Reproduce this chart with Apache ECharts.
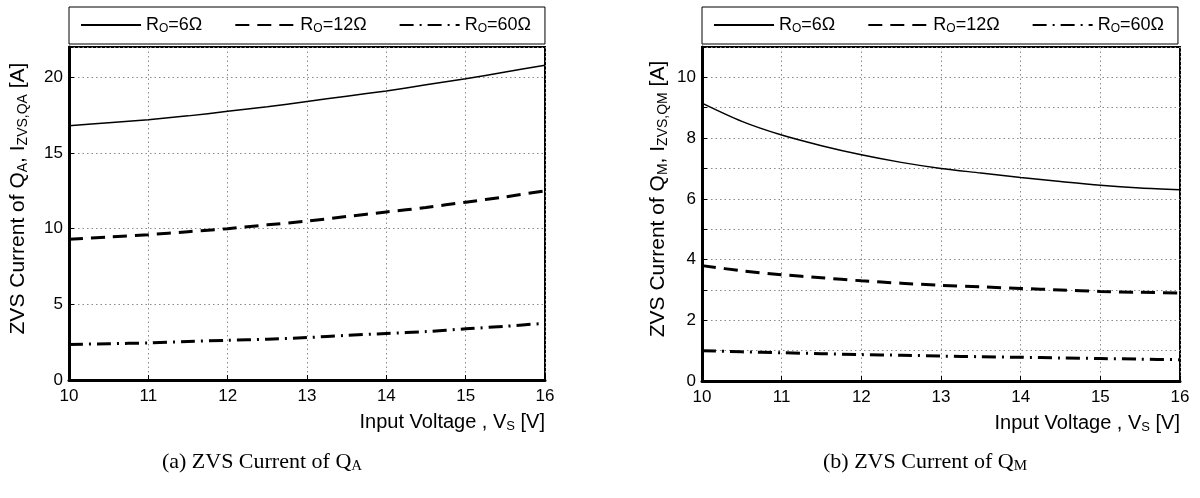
<!DOCTYPE html>
<html>
<head>
<meta charset="utf-8">
<title>ZVS Current</title>
<script src="https://cdn.jsdelivr.net/npm/echarts@6/dist/echarts.min.js"></script>
<style>
  html, body { margin: 0; padding: 0; background: #fff; }
  #main { width: 1200px; height: 498px; }
</style>
</head>
<body>
<div id="main"></div>
<script>
// input voltage Vs [V]
var vs = [10, 10.5, 11, 11.5, 12, 12.5, 13, 13.5, 14, 14.5, 15, 15.5, 16];

// (a) ZVS current of QA [A]
var qaR6  = [16.8, 17.0, 17.2, 17.45, 17.75, 18.05, 18.4, 18.75, 19.1, 19.5, 19.9, 20.35, 20.8];
var qaR12 = [9.3, 9.45, 9.6, 9.8, 10.0, 10.25, 10.5, 10.8, 11.1, 11.4, 11.75, 12.1, 12.5];
var qaR60 = [2.35, 2.4, 2.45, 2.55, 2.62, 2.7, 2.8, 2.95, 3.07, 3.2, 3.38, 3.55, 3.75];

// (b) ZVS current of QM [A]
var qmR6  = [9.15, 8.55, 8.1, 7.75, 7.45, 7.2, 7.0, 6.85, 6.7, 6.57, 6.45, 6.36, 6.3];
var qmR12 = [3.8, 3.63, 3.5, 3.4, 3.3, 3.22, 3.15, 3.1, 3.05, 3.0, 2.95, 2.92, 2.9];
var qmR60 = [1.0, 0.96, 0.93, 0.9, 0.87, 0.85, 0.82, 0.8, 0.78, 0.76, 0.74, 0.72, 0.7];

var names = ['R6', 'R12', 'R60'];
var labels = { R6: 'R{s|O}=6Ω', R12: 'R{s|O}=12Ω', R60: 'R{s|O}=60Ω' };

var font = 'Liberation Sans, Arial, sans-serif';
var serif = 'Liberation Serif, Times New Roman, serif';

var styles = {
  R6:  { color: '#000', width: 1.5, type: 'solid' },
  R12: { color: '#000', width: 3, type: [14, 8] },
  R60: { color: '#000', width: 3, type: [14, 6, 2, 6] }
};

function pairs(ys) {
  return vs.map(function (x, i) { return [x, ys[i]]; });
}

function legend(left) {
  return {
    data: names,
    left: left,
    top: 7,
    orient: 'horizontal',
    padding: [9, 14, 9, 11],
    itemWidth: 60,
    itemHeight: 14,
    itemGap: 32,
    borderColor: '#000',
    borderWidth: 1,
    backgroundColor: '#fff',
    selectedMode: false,
    // hide the marker circle, keep only the line sample
    itemStyle: { color: 'rgba(0,0,0,0)', borderColor: 'rgba(0,0,0,0)', borderWidth: 0 },
    formatter: function (n) { return labels[n]; },
    textStyle: {
      fontFamily: font, fontSize: 18, color: '#000',
      rich: { s: { fontFamily: font, fontSize: 12, color: '#000', padding: [8, 0, 0, 0] } }
    }
  };
}

function xAxis(idx) {
  return {
    type: 'value', gridIndex: idx, min: 10, max: 16, interval: 1,
    name: 'Input Voltage , V{s|S} [V]',
    nameLocation: 'end',
    nameGap: 0,
    nameTextStyle: {
      fontFamily: font, fontSize: 20, color: '#000', align: 'right', verticalAlign: 'top',
      padding: [31, 0, 0, 0],
      rich: { s: { fontFamily: font, fontSize: 13, color: '#000', padding: [9, 0, 0, 0] } }
    },
    axisLine: { show: true, onZero: false, lineStyle: { color: '#000', width: 3 } },
    axisTick: { inside: true, length: 5, lineStyle: { color: '#000' } },
    axisLabel: { margin: 8, fontFamily: font, fontSize: 17, color: '#000' },
    splitLine: { show: true, lineStyle: { color: '#8a8a8a', width: 1, type: [1.5, 3] } }
  };
}

function yAxis(idx, max, interval, gap, nameText, fmt) {
  return {
    type: 'value', gridIndex: idx, min: 0, max: max, interval: interval,
    name: nameText,
    nameLocation: 'middle',
    nameRotate: 90,
    nameGap: gap,
    nameTextStyle: {
      fontFamily: font, fontSize: 21, color: '#000',
      padding: [0, 0, 0, 30],
      rich: { s: { fontFamily: font, fontSize: 14, color: '#000', padding: [9, 0, 0, 0] } }
    },
    axisLine: { show: true, onZero: false, lineStyle: { color: '#000', width: 3 } },
    axisTick: { inside: true, length: 5, lineStyle: { color: '#000' } },
    axisLabel: { margin: 6, fontFamily: font, fontSize: 17, color: '#000', showMaxLabel: false, formatter: fmt },
    splitLine: { show: true, lineStyle: { color: '#8a8a8a', width: 1, type: [1.5, 3] } }
  };
}

function line(name, idx, ys) {
  return {
    name: name, type: 'line', xAxisIndex: idx, yAxisIndex: idx,
    data: pairs(ys), smooth: 0.3, symbol: 'none', showSymbol: false,
    lineStyle: styles[name], itemStyle: { color: '#000' },
    emphasis: { disabled: true }, animation: false, z: 3
  };
}

function caption(x, txt) {
  return {
    type: 'text', x: x, y: 462,
    style: {
      text: txt, font: '22px ' + serif, fill: '#000', align: 'center', verticalAlign: 'middle',
      rich: { s: { fontFamily: serif, fontSize: 15, fill: '#000', padding: [9, 0, 0, 0] } }
    }
  };
}

var chart = echarts.init(document.getElementById('main'));

chart.setOption({
  backgroundColor: '#fff',
  animation: false,
  legend: [legend(69), legend(702)],
  grid: [
    { left: 69, top: 47, width: 476, height: 333, show: true, borderColor: '#000', borderWidth: 2 },
    { left: 702, top: 47, width: 478, height: 334, show: true, borderColor: '#000', borderWidth: 2 }
  ],
  xAxis: [xAxis(0), xAxis(1)],
  yAxis: [
    yAxis(0, 22, 5, 39, 'ZVS Current of Q{s|A}, I{s|ZVS,QA} [A]', function (v) { return v; }),
    yAxis(1, 11, 1, 32, 'ZVS Current of Q{s|M}, I{s|ZVS,QM} [A]', function (v) { return v % 2 === 0 ? v : ''; })
  ],
  series: [
    line('R6', 0, qaR6), line('R12', 0, qaR12), line('R60', 0, qaR60),
    line('R6', 1, qmR6), line('R12', 1, qmR12), line('R60', 1, qmR60)
  ],
  graphic: [
    caption(262, '(a) ZVS Current of Q{s|A}'),
    caption(925, '(b) ZVS Current of Q{s|M}')
  ]
});
</script>
</body>
</html>
